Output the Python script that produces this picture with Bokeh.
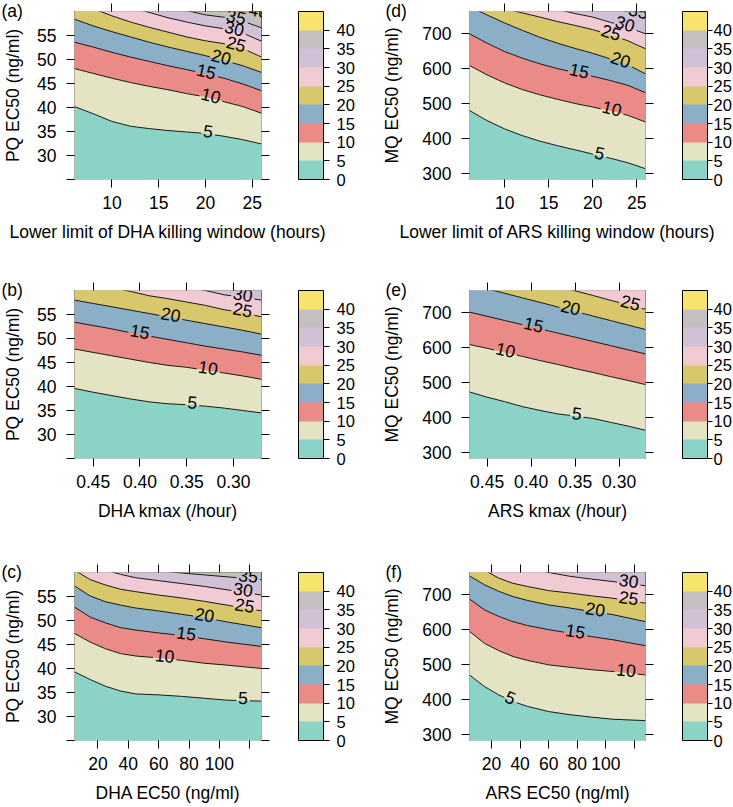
import numpy as np
from bokeh.plotting import figure
from bokeh.models import (Range1d, LinearAxis, FixedTicker, Title, ColorBar,
                          LinearColorMapper, PrintfTickFormatter, CustomLabelingPolicy)
from bokeh.layouts import column, row
from bokeh.embed import file_html
from bokeh.resources import INLINE
from bokeh.core.properties import value

# ---------------- data ----------------
LEVELS = [5, 10, 15, 20, 25, 30, 35, 40]
BAND_COLORS = ["#8BD3C7", "#E4E4C4", "#EB8B87", "#8AAFC6", "#D8C76B",
               "#F2CAD3", "#D1C1D7", "#C4C0C1", "#F8E46D"]
KEY_BOUNDS = [0, 5, 10, 15, 20, 25, 30, 35, 40, 45]
KEY_TICKS = [0, 5, 10, 15, 20, 25, 30, 35, 40]

window_ticks = [10, 15, 20, 25]
kmax_ticks = [0.45, 0.40, 0.35, 0.30]
ec50_ticks = [20, 40, 60, 80, 100]
ec50_unlabeled = [120]
pq_ticks = [30, 35, 40, 45, 50, 55]
pq_unlabeled = [25]
mq_ticks = [300, 400, 500, 600, 700]

window_range = (6, 26)
kmax_range = (0.47, 0.27)
ec50_range = (4.6, 127.7)
pq_range = (25, 60)
mq_range = (282, 764)

# (a) PQ EC50 vs lower limit of DHA killing window
a_x = [6, 8, 10, 12, 14, 16, 18, 20, 22, 24, 26]
a_lines = {
    5:  [40.2, 38.7, 37.1, 36.1, 35.6, 35.2, 34.9, 34.6, 34.0, 33.3, 32.4],
    10: [48.1, 47.1, 46.1, 45.2, 44.4, 43.7, 42.9, 42.2, 41.2, 40.2, 38.8],
    15: [53.6, 52.6, 51.5, 50.5, 49.6, 48.7, 47.9, 47.0, 46.1, 44.9, 43.5],
    20: [58.4, 57.0, 55.8, 54.7, 53.6, 52.6, 51.7, 50.8, 49.8, 48.7, 47.3],
    25: [62.2, 60.6, 59.1, 57.8, 56.7, 55.7, 54.7, 53.9, 53.3, 52.3, 50.5],
    30: [64.4, 63.2, 62.0, 60.8, 59.8, 58.7, 57.8, 57.0, 56.4, 55.5, 53.8],
    35: [66.2, 65.2, 64.2, 63.2, 62.2, 61.2, 60.2, 59.3, 58.8, 58.0, 56.6],
    40: [70.0, 69.0, 68.0, 67.0, 66.0, 65.0, 64.0, 63.0, 61.9, 60.4, 59.4],
}
a_label_x = {5: 20.3, 10: 20.6, 15: 20.1, 20: 21.7, 25: 23.3, 30: 23.1, 35: 23.3, 40: 25.7}

# (b) PQ EC50 vs DHA kmax
b_x = [0.47, 0.45, 0.43, 0.41, 0.39, 0.37, 0.35, 0.33, 0.31, 0.29, 0.27]
b_lines = {
    5:  [39.6, 38.8, 38.1, 37.4, 36.8, 36.4, 36.2, 35.9, 35.5, 35.0, 34.5],
    10: [47.8, 47.1, 46.4, 45.7, 45.0, 44.4, 44.0, 43.4, 42.8, 42.2, 41.5],
    15: [53.4, 52.7, 52.0, 51.2, 50.5, 49.8, 49.1, 48.4, 47.8, 47.2, 46.5],
    20: [58.0, 57.3, 56.6, 55.9, 55.2, 54.5, 53.8, 53.1, 52.4, 51.7, 50.9],
    25: [62.3, 61.4, 60.6, 59.8, 58.9, 58.3, 57.6, 56.9, 56.0, 55.4, 54.5],
    30: [65.3, 64.5, 63.8, 63.0, 62.3, 61.5, 60.7, 60.0, 59.1, 58.6, 58.0],
    35: [68.0, 67.3, 66.6, 65.9, 65.2, 64.5, 63.8, 63.0, 62.1, 61.2, 60.4],
    40: [73.0, 72.3, 71.6, 70.9, 70.2, 69.5, 68.8, 68.0, 67.1, 66.2, 65.4],
}
b_label_x = {5: 0.344, 10: 0.327, 15: 0.400, 20: 0.367, 25: 0.290, 30: 0.290}

# (c) PQ EC50 vs DHA EC50
c_x = [4.6, 15, 25, 35, 45, 60, 75, 90, 105, 127.7]
c_lines = {
    5:  [39.3, 37.7, 36.3, 35.3, 34.7, 34.5, 34.2, 33.8, 33.4, 33.2],
    10: [47.3, 45.5, 44.1, 43.1, 42.6, 42.2, 41.7, 41.1, 40.7, 40.0],
    15: [52.8, 50.7, 49.5, 48.5, 48.0, 47.4, 46.9, 46.2, 45.5, 44.6],
    20: [57.2, 55.1, 53.9, 53.2, 52.6, 52.0, 51.3, 50.6, 49.7, 48.5],
    25: [60.5, 58.5, 57.4, 56.5, 56.0, 55.3, 54.7, 54.0, 53.2, 52.0],
    30: [62.8, 61.5, 60.5, 59.6, 58.9, 58.3, 57.7, 57.1, 56.4, 55.3],
    35: [63.5, 62.8, 62.0, 61.5, 61.0, 60.4, 59.9, 59.5, 59.1, 58.5],
    40: [66.0, 65.5, 65.0, 64.5, 64.0, 63.5, 63.0, 62.5, 62.0, 61.5],
}
c_label_x = {5: 115.6, 10: 64.0, 15: 78.2, 20: 90.3, 25: 116.7, 30: 115.6, 35: 119.0}

# (d) MQ EC50 vs lower limit of ARS killing window
d_x = [6, 8, 10, 12, 14, 16, 18, 20, 22, 24, 26]
d_lines = {
    5:  [480, 451, 427, 408, 392, 379, 367, 355, 343, 330, 313],
    10: [609, 582, 559, 540, 525, 512, 500, 490, 479, 466, 447],
    15: [700, 673, 649, 630, 614, 600, 589, 578, 566, 552, 531],
    20: [778, 754, 731, 710, 690, 673, 658, 644, 628, 611, 585],
    25: [796, 784, 772, 760, 748, 735, 724, 712, 697, 680, 657],
    30: [830, 818, 806, 794, 782, 770, 758, 748, 733, 719, 700],
    35: [870, 858, 846, 834, 822, 810, 798, 787, 775, 764, 752],
    40: [910, 898, 886, 874, 862, 850, 838, 827, 815, 804, 792],
}
d_label_x = {5: 20.8, 10: 22.2, 15: 18.5, 20: 23.2, 25: 22.1, 30: 23.7, 35: 25.2}

# (e) MQ EC50 vs ARS kmax
e_x = [0.47, 0.45, 0.43, 0.41, 0.39, 0.37, 0.35, 0.33, 0.31, 0.29, 0.27]
e_lines = {
    5:  [473, 458, 445, 431, 420, 410, 404, 397, 386, 375, 363],
    10: [609, 598, 586, 575, 563, 552, 540, 529, 517, 506, 494],
    15: [702, 690, 678, 666, 654, 642, 630, 618, 606, 594, 582],
    20: [782, 769, 756, 743, 730, 717, 704, 691, 678, 665, 652],
    25: [842, 829, 816, 803, 789, 776, 763, 750, 736, 723, 710],
    30: [900, 887, 874, 861, 848, 835, 822, 809, 796, 783, 770],
    35: [960, 947, 934, 921, 908, 895, 882, 869, 856, 843, 830],
    40: [1020, 1007, 994, 981, 968, 955, 942, 929, 916, 903, 890],
}
e_label_x = {5: 0.348, 10: 0.429, 15: 0.397, 20: 0.355, 25: 0.287}

# (f) MQ EC50 vs ARS EC50
f_x = [4.6, 15, 25, 35, 45, 60, 75, 90, 105, 127.7]
f_lines = {
    5:  [470, 437, 413, 394, 380, 365, 356, 349, 343, 339],
    10: [595, 561, 540, 523, 512, 499, 492, 485, 480, 470],
    15: [688, 657, 638, 623, 612, 600, 590, 580, 571, 554],
    20: [754, 729, 710, 695, 684, 671, 662, 652, 643, 623],
    25: [788, 771, 748, 733, 724, 712, 705, 697, 690, 676],
    30: [812, 803, 794, 785, 776, 764, 753, 745, 738, 726],
    35: [852, 843, 834, 825, 816, 804, 793, 785, 778, 766],
    40: [892, 883, 874, 865, 856, 844, 833, 825, 818, 806],
}
f_label_x = {5: 33.3, 10: 114.2, 15: 78.7, 20: 92.7, 25: 116.0, 30: 116.0}

# ---------------- styling / layout ----------------
FONT = "Liberation Sans"
AX_FS = "17.5px"
CB_FS = "16.5px"
LAB_FS = 17.5
FH = 168
MB_TOP = 11
FW = [187, 176]            # frame width per column
MB_LEFT = [73, 92]
MB_RIGHT = [116, 85]
KEY_TICK = [6, 5]
KEY_STANDOFF = [7, 1]
MB_BOTTOM = [100, 103, 62]
YLAB_STANDOFF = [11, 17]
TAG_OFFSET = [-73, -84]


def style_axis(ax, show_labels=True):
    ax.axis_line_color = None
    ax.major_tick_line_color = "black"
    ax.minor_tick_line_color = "black"
    ax.major_tick_out = 8
    ax.major_tick_in = 0
    ax.minor_tick_out = 8
    ax.minor_tick_in = 0
    ax.major_label_text_font = FONT
    ax.major_label_text_color = "black"
    ax.axis_label_text_font = FONT
    ax.axis_label_text_font_style = "normal"
    ax.axis_label_text_color = "black"
    ax.axis_label_text_font_size = AX_FS
    if show_labels:
        ax.major_label_text_font_size = AX_FS
    else:
        # tick marks only: no tick labels are drawn on this axis
        ax.major_label_text_font_size = "0px"
        ax.major_label_standoff = 0
        ax.major_label_policy = CustomLabelingPolicy(code="return new Set()")


def make_panel(tag, col, rowi, xs, lines, label_x, xr, yr,
               xticks, xminor, yticks, yminor, xfmt, xlabel, ylabel):
    fw = FW[col]
    p = figure(frame_width=fw, frame_height=FH,
               x_range=Range1d(*xr), y_range=Range1d(*yr),
               output_backend="svg", toolbar_location=None,
               min_border_left=MB_LEFT[col], min_border_right=MB_RIGHT[col],
               min_border_top=MB_TOP, min_border_bottom=MB_BOTTOM[rowi])
    p.xgrid.visible = False
    p.ygrid.visible = False
    p.outline_line_color = "black"
    p.outline_line_width = 1
    p.background_fill_color = "white"
    p.border_fill_color = "white"

    xs = np.asarray(xs, dtype=float)
    order = np.argsort(xs)
    xa = xs[order]
    span_y = yr[1] - yr[0]
    lower = np.full(len(xa), yr[0] - span_y)
    upper_far = np.full(len(xa), yr[1] + 10 * span_y)
    # filled bands, painted from the top band downwards
    for k in range(len(BAND_COLORS) - 1, -1, -1):
        top = upper_far if k == len(LEVELS) else np.asarray(lines[LEVELS[k]], float)[order]
        p.varea(x=xa, y1=lower, y2=top, fill_color=BAND_COLORS[k], fill_alpha=1.0)

    sx = fw / (xr[1] - xr[0])
    sy = FH / (yr[1] - yr[0])
    span_x = abs(xr[1] - xr[0])
    for lev in LEVELS:
        ya = np.asarray(lines[lev], float)[order]

        def f(t, ya=ya):
            return float(np.interp(t, xa, ya))
        if lev in label_x:
            lx = label_x[lev]
            h = 0.04 * span_x
            dxp = 2 * h * sx
            dyp = (f(lx + h) - f(lx - h)) * sy
            if dxp < 0:
                dxp, dyp = -dxp, -dyp
            ang = float(np.arctan2(dyp, dxp))
            tw = len(str(lev)) * 0.556 * LAB_FS
            half = (tw / 2 + 2) * np.cos(ang) / abs(sx)
            l0, l1 = lx - half, lx + half
            keep_l = xa < l0
            keep_r = xa > l1
            px = list(xa[keep_l]) + [l0, np.nan, l1] + list(xa[keep_r])
            py = list(ya[keep_l]) + [f(l0), np.nan, f(l1)] + list(ya[keep_r])
            p.line(px, py, line_color="#1a1a1a", line_width=1)
            p.text(x=[lx], y=[f(lx)], text=[str(lev)], angle=ang,
                   text_align="center", text_baseline="middle", y_offset=-3,
                   text_font=value(FONT), text_font_size=f"{LAB_FS}px",
                   text_color="black")
        else:
            p.line(xa, ya, line_color="#1a1a1a", line_width=1)

    # axes
    bx = p.xaxis[0]
    bx.ticker = FixedTicker(ticks=xticks, minor_ticks=xminor)
    if xfmt:
        bx.formatter = PrintfTickFormatter(format=xfmt)
    bx.axis_label = xlabel
    style_axis(bx)
    bx.major_label_standoff = 8
    bx.axis_label_standoff = 10

    ly = p.yaxis[0]
    ly.ticker = FixedTicker(ticks=yticks, minor_ticks=yminor)
    ly.axis_label = ylabel
    style_axis(ly)
    ly.major_label_standoff = 10
    ly.axis_label_standoff = YLAB_STANDOFF[col]

    # panel tag, just above the frame on the left
    p.add_layout(Title(text=tag, align="left", offset=TAG_OFFSET[col],
                       vertical_align="top", standoff=-22,
                       text_font=FONT, text_font_size=AX_FS,
                       text_font_style="normal", text_color="black"), "above")

    top_ax = LinearAxis(ticker=FixedTicker(ticks=xticks, minor_ticks=xminor))
    style_axis(top_ax, show_labels=False)
    p.add_layout(top_ax, "above")

    # right-hand ticks; the blank axis label only reserves the gap before the key
    right_ax = LinearAxis(ticker=FixedTicker(ticks=yticks, minor_ticks=yminor))
    style_axis(right_ax, show_labels=False)
    right_ax.axis_label = " "
    right_ax.axis_label_text_font_size = "2px"
    right_ax.axis_label_standoff = 24
    p.add_layout(right_ax, "right")

    mapper = LinearColorMapper(palette=BAND_COLORS, low=KEY_BOUNDS[0], high=KEY_BOUNDS[-1])
    cb = ColorBar(color_mapper=mapper, ticker=FixedTicker(ticks=KEY_TICKS),
                  width=25, height=FH, padding=0, margin=0,
                  label_standoff=KEY_STANDOFF[col],
                  major_tick_out=KEY_TICK[col], major_tick_in=0,
                  minor_tick_out=0, minor_tick_in=0,
                  major_tick_line_color="black",
                  bar_line_color="black", bar_line_width=1,
                  major_label_text_font=FONT, major_label_text_font_size=CB_FS,
                  major_label_text_color="black",
                  background_fill_color=None, border_line_color=None)
    p.add_layout(cb, "right")
    return p


pa = make_panel("(a)", 0, 0, a_x, a_lines, a_label_x, window_range, pq_range,
                window_ticks, [], pq_ticks, pq_unlabeled, None,
                "Lower limit of DHA killing window (hours)", "PQ EC50 (ng/ml)")
pb = make_panel("(b)", 0, 1, b_x, b_lines, b_label_x, kmax_range, pq_range,
                kmax_ticks, [], pq_ticks, pq_unlabeled, "%.2f",
                "DHA kmax (/hour)", "PQ EC50 (ng/ml)")
pc = make_panel("(c)", 0, 2, c_x, c_lines, c_label_x, ec50_range, pq_range,
                ec50_ticks, ec50_unlabeled, pq_ticks, pq_unlabeled, None,
                "DHA EC50 (ng/ml)", "PQ EC50 (ng/ml)")
pd_ = make_panel("(d)", 1, 0, d_x, d_lines, d_label_x, window_range, mq_range,
                 window_ticks, [], mq_ticks, [], None,
                 "Lower limit of ARS killing window (hours)", "MQ EC50 (ng/ml)")
pe = make_panel("(e)", 1, 1, e_x, e_lines, e_label_x, kmax_range, mq_range,
                kmax_ticks, [], mq_ticks, [], "%.2f",
                "ARS kmax (/hour)", "MQ EC50 (ng/ml)")
pf = make_panel("(f)", 1, 2, f_x, f_lines, f_label_x, ec50_range, mq_range,
                ec50_ticks, ec50_unlabeled, mq_ticks, [], None,
                "ARS EC50 (ng/ml)", "MQ EC50 (ng/ml)")

layout = column(row(pa, pd_), row(pb, pe), row(pc, pf))

with open("out.html", "w") as fh:
    fh.write(file_html(layout, INLINE))
